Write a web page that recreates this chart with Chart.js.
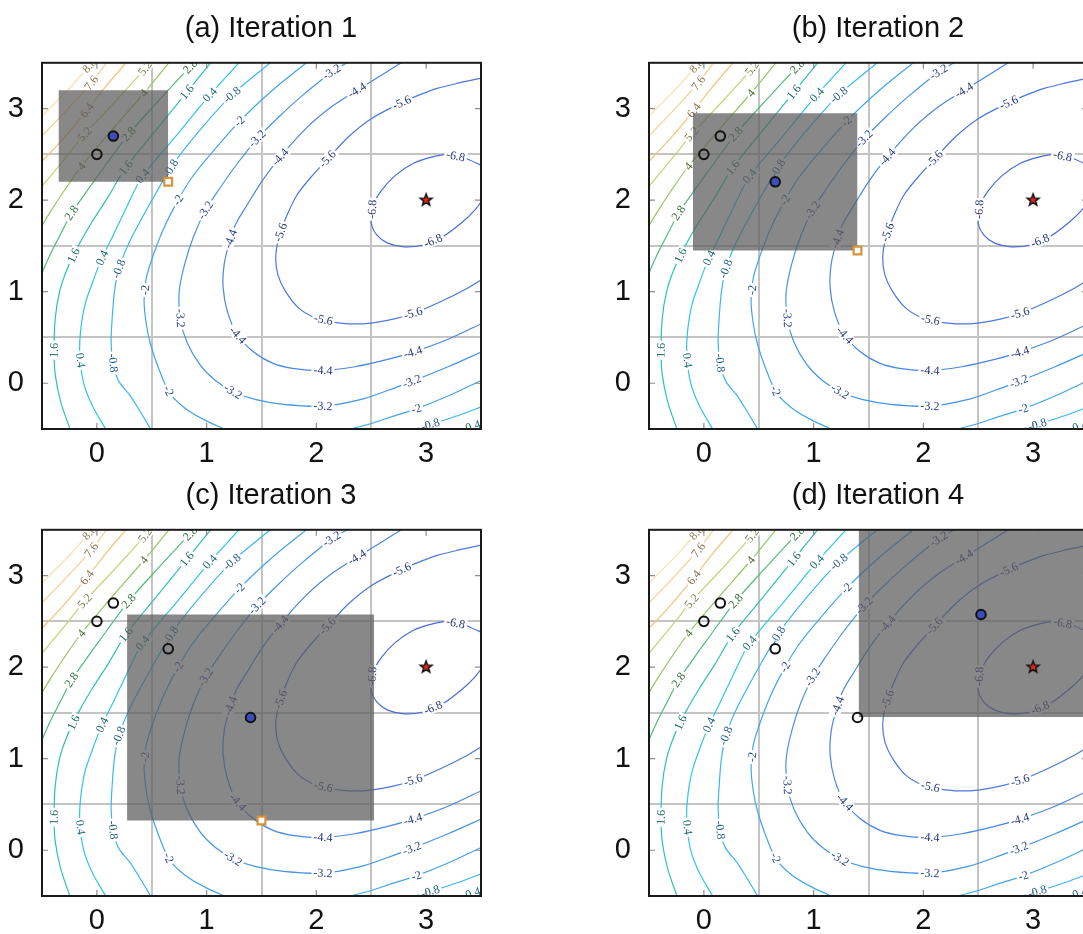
<!DOCTYPE html>
<html lang="en">
<head>
<meta charset="UTF-8">
<title>Iterations</title>
<script src="https://cdn.jsdelivr.net/npm/chart.js"></script>
<style>
  html, body { margin: 0; padding: 0; background: #fff; overflow: hidden; }
  #wrap { position: relative; width: 1083px; height: 934px; overflow: hidden; background: #fff; }
  .panel { position: absolute; }
</style>
</head>
<body>
<div id="wrap">
  <canvas id="chartA" class="panel" width="542" height="474" style="left:0;top:0;width:542px;height:474px"></canvas>
  <canvas id="chartB" class="panel" width="542" height="474" style="left:607px;top:0;width:542px;height:474px"></canvas>
  <canvas id="chartC" class="panel" width="542" height="474" style="left:0;top:467px;width:542px;height:474px"></canvas>
  <canvas id="chartD" class="panel" width="542" height="474" style="left:607px;top:467px;width:542px;height:474px"></canvas>
</div>
<script>
// contour levels and tick values
const levels = [-6.8, -5.6, -4.4, -3.2, -2, -0.8, 0.4, 1.6, 2.8, 4, 5.2, 6.4, 7.6, 8.8];
const xTicks = [0, 1, 2, 3];
const yTicks = [0, 1, 2, 3];
const gridX = [0.5, 1.5, 2.5];
const gridY = [0.5, 1.5, 2.5];
const titles = ['(a) Iteration 1', '(b) Iteration 2', '(c) Iteration 3', '(d) Iteration 4'];

// contour lines, [x, y]
const lineM68 = [[3.52,2.37],[3.35,2.46],[3.2,2.5],[3.05,2.47],[2.88,2.4],[2.72,2.27],[2.59,2.1],[2.51,1.92],[2.5,1.75],[2.55,1.62],[2.65,1.53],[2.8,1.49],[2.97,1.51],[3.15,1.6],[3.32,1.75],[3.45,1.9],[3.53,2.03]];
const lineM56 = [[3.53,3.34],[3.3,3.28],[3.1,3.22],[2.9,3.13],[2.75,3.05],[2.5,2.89],[2.3,2.7],[2.11,2.46],[1.95,2.25],[1.82,2.05],[1.72,1.8],[1.66,1.6],[1.63,1.38],[1.65,1.18],[1.72,1.0],[1.84,0.82],[2.0,0.71],[2.2,0.66],[2.45,0.65],[2.7,0.7],[2.9,0.77],[3.15,0.9],[3.35,1.02],[3.53,1.15]];
const lineM44 = [[2.8,3.52],[2.6,3.37],[2.37,3.2],[2.15,3.03],[1.92,2.8],[1.67,2.47],[1.5,2.2],[1.37,1.95],[1.27,1.75],[1.21,1.55],[1.16,1.3],[1.15,1.05],[1.19,0.78],[1.28,0.53],[1.42,0.35],[1.6,0.22],[1.8,0.16],[2.06,0.14],[2.35,0.18],[2.65,0.26],[2.88,0.34],[3.2,0.48],[3.52,0.66]];
const lineM32 = [[2.31,3.52],[2.14,3.4],[1.85,3.12],[1.65,2.9],[1.46,2.67],[1.28,2.4],[1.12,2.13],[0.99,1.89],[0.88,1.6],[0.8,1.3],[0.75,1.0],[0.76,0.71],[0.82,0.45],[0.94,0.2],[1.08,0.03],[1.24,-0.09],[1.45,-0.18],[1.7,-0.23],[2.06,-0.25],[2.4,-0.18],[2.65,-0.08],[2.87,0.02],[3.2,0.18],[3.52,0.35]];
const lineM20a = [[1.93,3.52],[1.6,3.2],[1.3,2.86],[1.0,2.45],[0.85,2.22],[0.74,2.0],[0.62,1.72],[0.52,1.42],[0.45,1.15],[0.43,0.9],[0.45,0.65],[0.49,0.42],[0.57,0.14],[0.66,-0.1],[0.8,-0.27],[0.98,-0.4],[1.2,-0.52]];
const lineM20b = [[2.25,-0.52],[2.5,-0.44],[2.7,-0.36],[2.91,-0.28],[3.2,-0.14],[3.52,0.04]];
const lineM08a = [[1.6,3.52],[1.23,3.15],[0.95,2.78],[0.7,2.4],[0.54,2.08],[0.4,1.78],[0.28,1.5],[0.2,1.25],[0.16,1.0],[0.14,0.72],[0.13,0.45],[0.15,0.2],[0.2,0.02],[0.3,-0.13],[0.4,-0.32],[0.5,-0.52]];
const lineM08b = [[2.85,-0.52],[3.04,-0.45],[3.3,-0.35],[3.52,-0.25]];
const lineP04a = [[1.31,3.52],[1.03,3.15],[0.72,2.7],[0.41,2.25],[0.27,1.92],[0.15,1.62],[0.04,1.35],[-0.04,1.1],[-0.11,0.85],[-0.15,0.55],[-0.155,0.3],[-0.12,0.0],[-0.04,-0.25],[0.09,-0.52]];
const lineP04b = [[3.3,-0.52],[3.42,-0.47],[3.53,-0.43]];
const lineP16 = [[1.05,3.52],[0.82,3.18],[0.55,2.78],[0.26,2.35],[0.1,2.03],[-0.05,1.75],[-0.17,1.5],[-0.27,1.25],[-0.34,1.0],[-0.38,0.7],[-0.39,0.36],[-0.38,0.1],[-0.33,-0.2],[-0.24,-0.52]];
const lineP28 = [[0.9,3.52],[0.82,3.42],[0.55,3.07],[0.29,2.72],[0.03,2.3],[-0.12,2.05],[-0.23,1.86],[-0.33,1.63],[-0.42,1.42],[-0.5,1.2],[-0.55,1.0]];
const lineP40 = [[0.67,3.52],[0.43,3.17],[0.14,2.77],[-0.14,2.37],[-0.3,2.1],[-0.43,1.86],[-0.55,1.62]];
const lineP52 = [[0.49,3.52],[0.44,3.44],[0.17,3.08],[-0.11,2.72],[-0.3,2.44],[-0.55,2.08]];
const lineP64 = [[0.28,3.52],[0.08,3.24],[-0.09,2.98],[-0.3,2.68],[-0.55,2.36]];
const lineP76 = [[0.1,3.52],[-0.05,3.28],[-0.3,2.95],[-0.55,2.64]];
const lineP88 = [[-0.03,3.52],[-0.25,3.22],[-0.55,2.86]];

// where the level labels sit
const labM68 = [[2.51,1.9],[3.06,1.57],[3.27,2.49]];
const labM56 = [[2.78,3.06],[2.1,2.45],[1.67,1.65],[2.06,0.67],[2.88,0.77]];
const labM44 = [[2.37,3.2],[1.67,2.47],[1.21,1.58],[1.28,0.52],[2.06,0.14],[2.88,0.34]];
const labM32 = [[2.14,3.4],[1.46,2.67],[0.99,1.89],[0.76,0.71],[1.24,-0.09],[2.06,-0.25],[2.87,0.02]];
const labM20 = [[1.3,2.86],[0.74,2.0],[0.43,1.02],[0.64,-0.09],[2.91,-0.28]];
const labM08 = [[1.23,3.15],[0.67,2.35],[0.2,1.25],[0.14,0.22],[3.04,-0.46]];
const labP04 = [[1.03,3.15],[0.41,2.27],[0.03,1.38],[-0.15,0.25],[3.43,-0.48]];
const labP16 = [[0.82,3.18],[0.26,2.36],[-0.22,1.4],[-0.39,0.36]];
const labP28 = [[0.85,3.46],[0.29,2.72],[-0.23,1.86]];
const labP40 = [[0.43,3.17],[-0.14,2.37]];
const labP52 = [[0.44,3.44],[-0.11,2.72]];
const labP64 = [[-0.09,2.98]];
const labP76 = [[-0.05,3.28]];
const labP88 = [[-0.06,3.46]];

// trust region boxes [xmin, xmax, ymin, ymax]
const regionA = [-0.35, 0.65, 2.2, 3.2];
const regionB = [-0.1, 1.4, 1.45, 2.95];
const regionC = [0.275, 2.525, 0.325, 2.575];
const regionD = [1.41, 3.65, 1.455, 3.7];

// sampled points
const visitedA = [[0, 2.5]];
const visitedB = [[0, 2.5], [0.15, 2.7]];
const visitedC = [[0, 2.5], [0.15, 2.7], [0.65, 2.2]];
const visitedD = [[0, 2.5], [0.15, 2.7], [0.65, 2.2], [1.4, 1.45]];
const currentA = [[0.15, 2.7]];
const currentB = [[0.65, 2.2]];
const currentC = [[1.4, 1.45]];
const currentD = [[2.525, 2.575]];
const candidateA = [[0.65, 2.2]];
const candidateB = [[1.4, 1.45]];
const candidateC = [[1.5, 0.325]];
const candidateD = [];
const optimum = [[3, 2]];

const contourPaths = [
  [-6.8, lineM68], [-5.6, lineM56], [-4.4, lineM44], [-3.2, lineM32],
  [-2, lineM20a], [-2, lineM20b], [-0.8, lineM08a], [-0.8, lineM08b],
  [0.4, lineP04a], [0.4, lineP04b], [1.6, lineP16], [2.8, lineP28],
  [4, lineP40], [5.2, lineP52], [6.4, lineP64], [7.6, lineP76], [8.8, lineP88]
];
const contourLabels = [
  [-6.8, labM68], [-5.6, labM56], [-4.4, labM44], [-3.2, labM32], [-2, labM20],
  [-0.8, labM08], [0.4, labP04], [1.6, labP16], [2.8, labP28], [4, labP40],
  [5.2, labP52], [6.4, labP64], [7.6, labP76], [8.8, labP88]
];

const lineColors = ['#4b6cd6','#4b79da','#4a87de','#4695e3','#42a5e9','#3ab7ee','#2ec6e6','#2dc2b2','#52bb76','#92c95e','#c9d273','#f0c57a','#f5d08e','#f8dfa4'];
const textColors = ['#26367a','#26367a','#26387e','#243c86','#224a8c','#1f5a8a','#1a6a78','#1b6a5e','#2c6a36','#4e6c28','#7a7640','#8c6c44','#8c7048','#907e52'];

const sans = '"Liberation Sans", Arial, Helvetica, sans-serif';
const toXY = pts => pts.map(([x, y]) => ({x, y}));

// red five-pointed star for the optimum
function makeStar() {
  const c = document.createElement('canvas');
  c.width = c.height = 18;
  const g = c.getContext('2d');
  g.beginPath();
  for (let i = 0; i < 10; i++) {
    const r = i % 2 ? 2.6 : 6.2;
    const a = -Math.PI / 2 + i * Math.PI / 5;
    g.lineTo(9 + r * Math.cos(a), 9 + r * Math.sin(a));
  }
  g.closePath();
  g.fillStyle = '#e3241b';
  g.fill();
  g.lineWidth = 1.5;
  g.strokeStyle = '#111';
  g.stroke();
  return c;
}
const star = makeStar();

// inline labels on the contours, drawn once all contour lines are done
const labelPlugin = {
  id: 'contourLabels',
  afterDatasetDraw(chart, args) {
    if (args.index !== 0) return;
    const {ctx, chartArea: a, scales: {x, y}} = chart;
    ctx.save();
    ctx.beginPath();
    ctx.rect(a.left, a.top, a.right - a.left, a.bottom - a.top);
    ctx.clip();
    ctx.font = '12px "Liberation Serif", "DejaVu Serif", serif';
    ctx.textAlign = 'center';
    ctx.textBaseline = 'middle';
    contourLabels.forEach(([lv, spots]) => {
      const k = levels.indexOf(lv);
      const segs = contourPaths.filter(p => p[0] === lv)
        .map(p => p[1].map(([u, v]) => [x.getPixelForValue(u), y.getPixelForValue(v)]));
      const text = String(lv);
      const w = ctx.measureText(text).width;
      spots.forEach(([u, v]) => {
        const px = x.getPixelForValue(u), py = y.getPixelForValue(v);
        let best = null;
        segs.forEach(s => {
          for (let i = 0; i < s.length - 1; i++) {
            const [x1, y1] = s[i], [x2, y2] = s[i + 1];
            const dx = x2 - x1, dy = y2 - y1;
            let t = ((px - x1) * dx + (py - y1) * dy) / (dx * dx + dy * dy);
            t = Math.max(0, Math.min(1, t));
            const qx = x1 + t * dx, qy = y1 + t * dy;
            const d = (qx - px) ** 2 + (qy - py) ** 2;
            if (!best || d < best.d) best = {d, qx, qy, ang: Math.atan2(dy, dx)};
          }
        });
        let ang = best.ang;
        if (ang > Math.PI / 2) ang -= Math.PI;
        if (ang < -Math.PI / 2) ang += Math.PI;
        ctx.save();
        ctx.translate(best.qx, best.qy);
        ctx.rotate(ang);
        ctx.fillStyle = '#fff';
        ctx.fillRect(-w / 2 - 2, -5.5, w + 4, 11);
        ctx.fillStyle = textColors[k];
        ctx.fillText(text, 0, 0.5);
        ctx.restore();
      });
    });
    ctx.restore();
  }
};

// black frame with small inward ticks
const framePlugin = {
  id: 'frame',
  afterDraw(chart) {
    const {ctx, chartArea: a, scales: {x, y}} = chart;
    ctx.save();
    ctx.strokeStyle = '#8c8c8c';
    ctx.lineWidth = 1.2;
    ctx.beginPath();
    xTicks.forEach(v => {
      const p = x.getPixelForValue(v);
      ctx.moveTo(p, a.bottom); ctx.lineTo(p, a.bottom - 6);
      ctx.moveTo(p, a.top); ctx.lineTo(p, a.top + 6);
    });
    yTicks.forEach(v => {
      const p = y.getPixelForValue(v);
      ctx.moveTo(a.left, p); ctx.lineTo(a.left + 6, p);
      ctx.moveTo(a.right, p); ctx.lineTo(a.right - 6, p);
    });
    ctx.stroke();
    ctx.strokeStyle = '#1a1a1a';
    ctx.lineWidth = 2;
    ctx.strokeRect(a.left, a.top, a.right - a.left, a.bottom - a.top);
    ctx.restore();
  }
};

function makePanel(id, title, region, visited, current, candidate) {
  const datasets = contourPaths.map(([lv, pts]) => ({
    type: 'line',
    data: toXY(pts),
    borderColor: lineColors[levels.indexOf(lv)],
    borderWidth: 1.2,
    pointRadius: 0,
    tension: 0.3,
    fill: false,
    clip: 0,
    order: 10
  }));
  const [x0, x1, y0, y1] = region;
  datasets.push({
    type: 'line',
    data: toXY([[x0, y1], [x1, y1]]),
    borderColor: 'rgba(0,0,0,0)',
    borderWidth: 0,
    backgroundColor: 'rgba(92,90,90,0.72)',
    fill: {value: y0},
    pointRadius: 0,
    tension: 0,
    clip: 0,
    order: 5
  });
  datasets.push({
    data: toXY(visited), pointStyle: 'circle', pointRadius: 4.8,
    backgroundColor: 'rgba(0,0,0,0)', borderColor: '#111', borderWidth: 2, order: 1
  });
  datasets.push({
    data: toXY(current), pointStyle: 'circle', pointRadius: 4.8,
    backgroundColor: '#3a4db8', borderColor: '#111', borderWidth: 2, order: 1
  });
  datasets.push({
    data: toXY(candidate), pointStyle: 'rect', pointRadius: 5.5,
    backgroundColor: '#fff', borderColor: '#d8913c', borderWidth: 2.2, order: 1
  });
  datasets.push({
    data: toXY(optimum), pointStyle: star, order: 1
  });

  new Chart(document.getElementById(id), {
    type: 'scatter',
    data: {datasets},
    options: {
      responsive: false,
      animation: false,
      events: [],
      layout: {padding: 0},
      plugins: {
        legend: {display: false},
        tooltip: {enabled: false},
        title: {
          display: true,
          text: title,
          color: '#111',
          font: {size: 29, family: sans, weight: 'normal'},
          padding: {top: 12, bottom: 16}
        }
      },
      scales: {
        x: {
          type: 'linear', min: -0.5, max: 3.5,
          afterBuildTicks: s => { s.ticks = xTicks.map(v => ({value: v})); },
          afterFit: s => { s.height = 45; },
          grid: {display: false},
          border: {display: false},
          ticks: {color: '#111', padding: 0, font: {size: 29, family: sans}}
        },
        y: {
          type: 'linear', min: -0.5, max: 3.5,
          afterBuildTicks: s => { s.ticks = yTicks.map(v => ({value: v})); },
          afterFit: s => { s.width = 42; },
          grid: {display: false},
          border: {display: false},
          ticks: {color: '#111', padding: 10, font: {size: 29, family: sans}}
        },
        gx: {
          type: 'linear', position: 'top', min: -0.5, max: 3.5,
          afterBuildTicks: s => { s.ticks = gridX.map(v => ({value: v})); },
          afterFit: s => { s.height = 0; },
          ticks: {display: false},
          border: {display: false},
          grid: {color: '#c4c4c4', lineWidth: 2, drawTicks: false}
        },
        gy: {
          type: 'linear', position: 'right', min: -0.5, max: 3.5,
          afterBuildTicks: s => { s.ticks = gridY.map(v => ({value: v})); },
          afterFit: s => { s.width = 61; },
          ticks: {display: false},
          border: {display: false},
          grid: {color: '#c4c4c4', lineWidth: 2, drawTicks: false}
        }
      }
    },
    plugins: [labelPlugin, framePlugin]
  });
}

makePanel('chartA', titles[0], regionA, visitedA, currentA, candidateA);
makePanel('chartB', titles[1], regionB, visitedB, currentB, candidateB);
makePanel('chartC', titles[2], regionC, visitedC, currentC, candidateC);
makePanel('chartD', titles[3], regionD, visitedD, currentD, candidateD);
</script>
</body>
</html>
